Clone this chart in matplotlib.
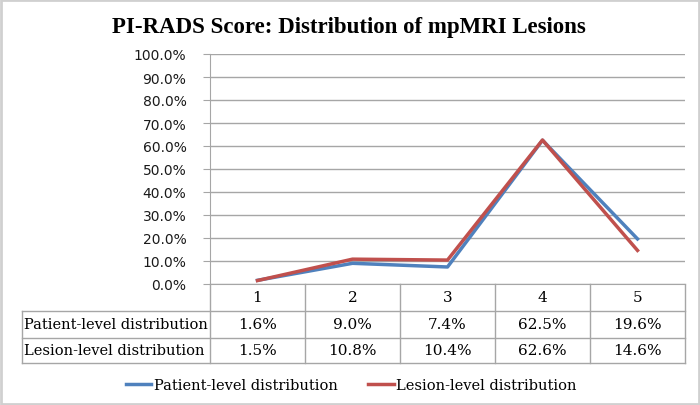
import matplotlib
matplotlib.use('Agg')
import matplotlib.pyplot as plt
from matplotlib.lines import Line2D
from matplotlib.patches import Rectangle

# data
scores = ['1', '2', '3', '4', '5']
patient = [1.6, 9.0, 7.4, 62.5, 19.6]
lesion = [1.5, 10.8, 10.4, 62.6, 14.6]
series_names = ['Patient-level distribution', 'Lesion-level distribution']
yticks = list(range(0, 101, 10))

W, H = 700, 406
fig = plt.figure(figsize=(7, 4.06), dpi=100)


def fx(px):
    return px / W


def fy(py):
    return 1 - py / H


grid_col = '#A6A6A6'
serif = 'DejaVu Serif'

# outer chart border
fig.add_artist(Rectangle((0.002, 0.003), 0.996, 0.994, transform=fig.transFigure,
                         fill=False, edgecolor='#D0D0D0', lw=2))

# title
fig.text(fx(349), fy(28), 'PI-RADS Score: Distribution of mpMRI Lesions',
         ha='center', va='center', fontsize=16.5, fontweight='bold',
         family='Liberation Serif')

# plot area
left, right, top, bottom = 210, 685, 55, 285
ax = fig.add_axes([fx(left), fy(bottom), (right - left) / W, (bottom - top) / H])
x = list(range(1, len(scores) + 1))
l1, = ax.plot(x, patient, color='#4F81BD', lw=2.5, solid_joinstyle='round')
l2, = ax.plot(x, lesion, color='#C0504D', lw=2.5, solid_joinstyle='round')
ax.set_xlim(0.5, len(scores) + 0.5)
ax.set_ylim(0, 100)
ax.set_yticks(yticks)
ax.set_yticklabels(['%.1f%%' % v for v in yticks], fontsize=10, family='DejaVu Sans',
                   color='#1A1A1A')
ax.set_xticks([])
ax.yaxis.grid(True, color=grid_col, lw=1)
ax.set_axisbelow(True)
for s in ['top', 'right']:
    ax.spines[s].set_visible(False)
for s in ['left', 'bottom']:
    ax.spines[s].set_color(grid_col)
ax.tick_params(axis='y', length=5, color=grid_col, pad=12)

# data table below the axis
col_edges = [left + (right - left) * i / len(scores) for i in range(len(scores) + 1)]
row_edges = [285, 312, 339, 364]
label_left = 22


def hline(y, x0, x1):
    fig.add_artist(Line2D([fx(x0), fx(x1)], [fy(y), fy(y)], transform=fig.transFigure,
                          color=grid_col, lw=1))


def vline(xp, y0, y1):
    fig.add_artist(Line2D([fx(xp), fx(xp)], [fy(y0), fy(y1)], transform=fig.transFigure,
                          color=grid_col, lw=1))


for y in row_edges[1:]:
    hline(y, label_left, right)
for xp in col_edges:
    vline(xp, row_edges[0], row_edges[-1])
vline(label_left, row_edges[1], row_edges[-1])

row_centers = [(row_edges[i] + row_edges[i + 1]) / 2 for i in range(3)]
for i, s in enumerate(scores):
    cx = (col_edges[i] + col_edges[i + 1]) / 2
    fig.text(fx(cx), fy(row_centers[0]), s, ha='center', va='center',
             fontsize=11, family=serif)
    fig.text(fx(cx), fy(row_centers[1]), '%.1f%%' % patient[i], ha='center',
             va='center', fontsize=11, family=serif)
    fig.text(fx(cx), fy(row_centers[2]), '%.1f%%' % lesion[i], ha='center',
             va='center', fontsize=11, family=serif)
for r, name in zip(row_centers[1:], series_names):
    fig.text(fx(label_left + 2), fy(r), name, ha='left', va='center',
             fontsize=10.5, family=serif)

# legend
fig.legend([l1, l2], series_names, loc='center', bbox_to_anchor=(fx(351), fy(386)),
           ncol=2, frameon=False, prop={'family': serif, 'size': 10.5},
           handlelength=1.75, handletextpad=0.15, columnspacing=2.1)

fig.savefig('out.png', dpi=100)
